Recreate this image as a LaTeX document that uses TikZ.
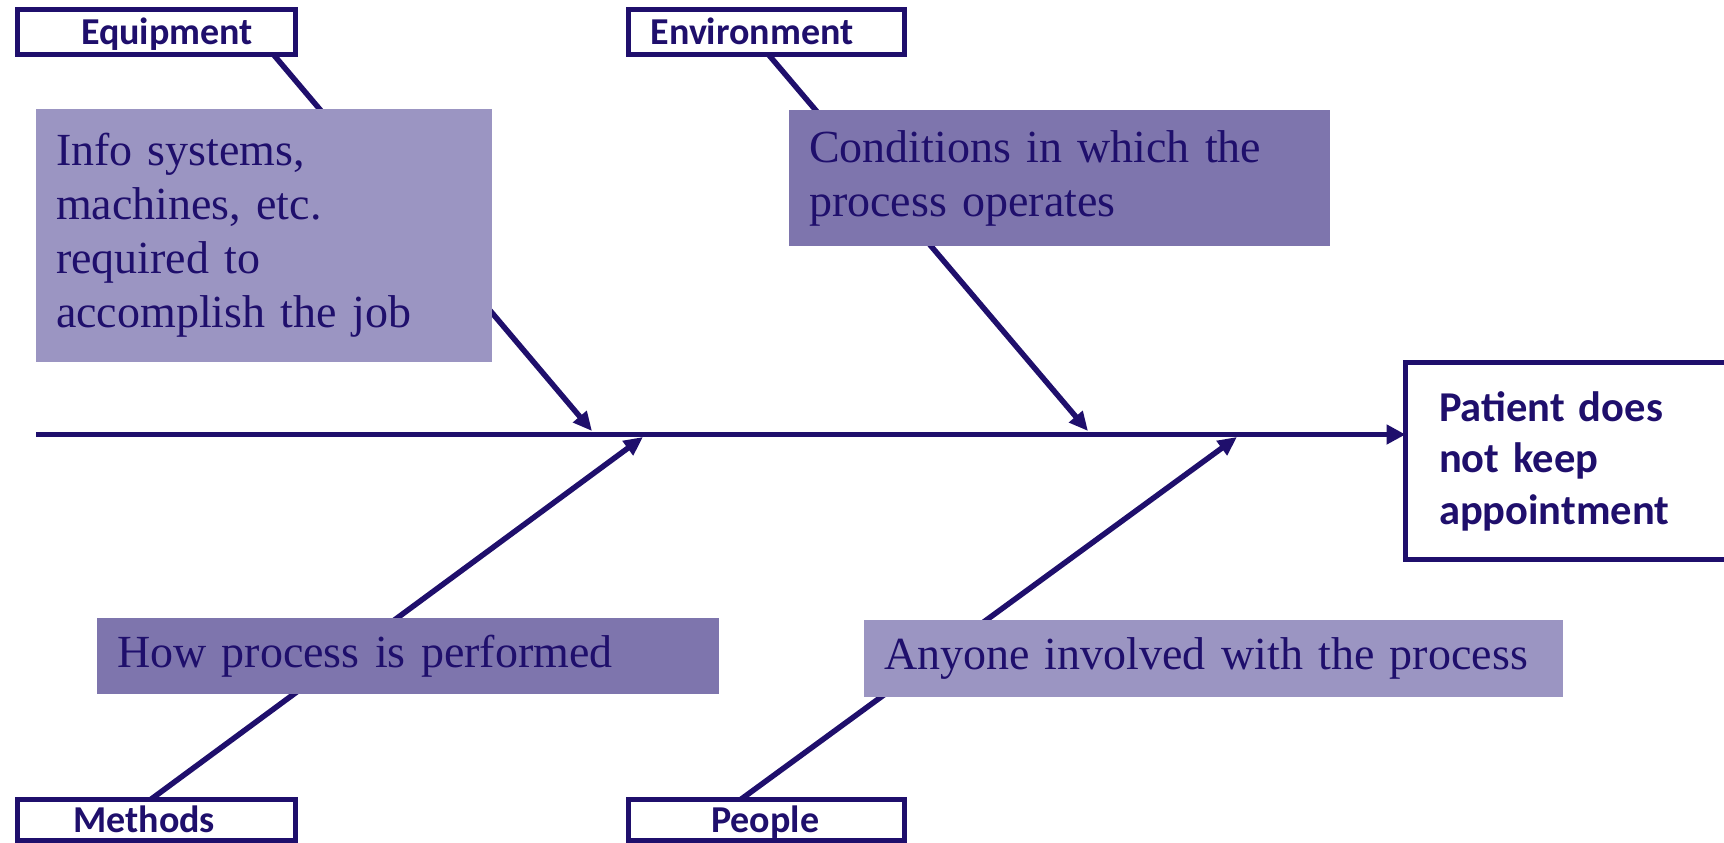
\documentclass[tikz,border=0pt]{standalone}
\usepackage{fontspec}
\setmainfont{Liberation Serif}
\newfontfamily\lblfont{Carlito}
\usetikzlibrary{arrows.meta}
\definecolor{navy}{HTML}{1F0F6C}
\definecolor{boxlight}{HTML}{9B95C2}
\definecolor{boxdark}{HTML}{7E75AD}
\begin{document}
\begin{tikzpicture}[x=1pt,y=-1pt,
  catbox/.style={draw=navy, line width=5pt, fill=white, text=navy,
    font=\lblfont\bfseries\fontsize{38}{42}\selectfont,
    text height=30pt, text depth=5pt,
    inner sep=0pt, outer sep=0pt, anchor=north west, minimum width=278pt},
  effectbox/.style={draw=navy, line width=5pt, fill=white, text=navy,
    font=\lblfont\bfseries\fontsize{42.5}{51.5}\selectfont,
    align=left, inner xsep=33.5pt, inner ysep=0pt, outer sep=0pt,
    anchor=north west, text width=333pt, minimum height=197pt},
  causebox/.style={text=navy, font=\fontsize{46}{54}\selectfont,
    align=left, inner xsep=20pt, inner ysep=0pt, outer sep=0pt,
    anchor=north west},
  spine/.style={draw=navy, line width=5.5pt, -{Triangle[length=19pt,width=19pt]}},
  bone/.style={draw=navy, line width=5.5pt, -{Triangle[length=19pt,width=17pt]}}
]
\clip (0,0) rectangle (1724,843);

% effect box
\node[effectbox] (pat) at (1405.5,362.5) {Patient does\\not keep\\appointment};

% spine
\coordinate (tail) at (36,434.5);
\draw[spine] (tail) -- (tail -| pat.west);

% bone end points
\coordinate (eqfoot) at (273,54);
\coordinate (eqtip) at (592,431);
\coordinate (envfoot) at (768,54);
\coordinate (envtip) at (1088,431);
\coordinate (methfoot) at (150,800);
\coordinate (methtip) at (643,437);
\coordinate (peopfoot) at (740,800);
\coordinate (peoptip) at (1237,437);

\draw[bone] (eqfoot) -- (eqtip);
\draw[bone] (envfoot) -- (envtip);
\draw[bone] (methfoot) -- (methtip);
\draw[bone] (peopfoot) -- (peoptip);

% description boxes
\node[causebox, fill=boxlight, text width=416pt, minimum height=253pt] (eqdesc) at (36,109)
  {Info systems,\\machines, etc.\\required to\\accomplish the job};
\node[causebox, fill=boxdark, text width=501pt, minimum height=136pt] (envdesc) at (789,110)
  {Conditions in which the\\process operates};
\node[causebox, fill=boxdark, text width=582pt, minimum height=76pt] (methdesc) at (97,618)
  {How process is performed};
\node[causebox, fill=boxlight, text width=659pt, minimum height=77pt] (peopdesc) at (864,620)
  {Anyone involved with the process};

% category labels
\node[catbox, minimum height=45pt] (eq) at (17.5,9.5) {\hspace*{21pt}Equipment};
\node[catbox, minimum width=276pt, minimum height=45pt] (env) at (628.5,9.5) {Environment\hspace*{29pt}};
\node[catbox, minimum height=41pt] (meth) at (17.5,799.5) {Methods\hspace*{24.5pt}};
\node[catbox, minimum width=276pt, minimum height=41pt] (peop) at (628.5,799.5) {People\hspace*{2.5pt}};
\end{tikzpicture}
\end{document}
